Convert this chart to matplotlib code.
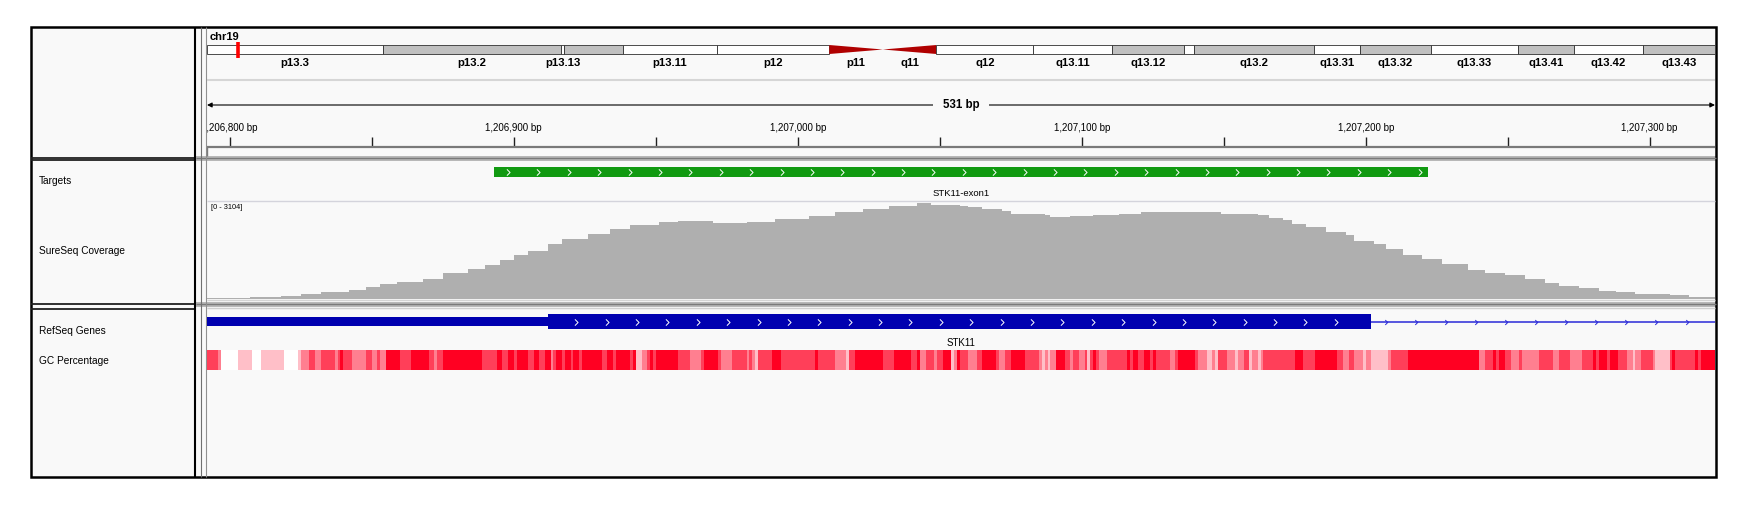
import numpy as np
import matplotlib
matplotlib.use('Agg')
import matplotlib.pyplot as plt
from matplotlib.patches import Rectangle, Polygon
from matplotlib.path import Path
from matplotlib.colors import LinearSegmentedColormap

plt.rcParams['font.family'] = ['Liberation Sans', 'DejaVu Sans']

W, H = 1747, 514
DX0, DX1 = 207, 1715          # data area (pixels)
BG = '#f9f9f9'

# --- locus -------------------------------------------------------------
chrom = 'chr19'
CHR_LEN = 59128983
VIEW_START = 1206792
VIEW_END = 1207323

# --- cytobands (hg19, chr19) -------------------------------------------
band_names = ['p13.3', 'p13.2', 'p13.13', 'p13.12', 'p13.11', 'p12', 'p11', 'q11', 'q12',
              'q13.11', 'q13.12', 'q13.13', 'q13.2', 'q13.31', 'q13.32', 'q13.33',
              'q13.41', 'q13.42', 'q13.43']
band_start = [0, 6.9, 13.9, 14.0, 16.3, 20.0, 24.4, 26.5, 28.6, 32.4, 35.5, 38.3, 38.7,
              43.4, 45.2, 48.0, 51.4, 53.6, 56.3]
band_end = [6.9, 13.9, 14.0, 16.3, 20.0, 24.4, 26.5, 28.6, 32.4, 35.5, 38.3, 38.7, 43.4,
            45.2, 48.0, 51.4, 53.6, 56.3, 59.128983]
band_stain = ['gneg', 'gpos25', 'gneg', 'gpos25', 'gneg', 'gvar', 'acen', 'acen', 'gvar',
              'gneg', 'gpos25', 'gneg', 'gpos25', 'gneg', 'gpos25', 'gneg', 'gpos25',
              'gneg', 'gpos25']
band_shown = [1, 1, 1, 0, 1, 1, 1, 1, 1, 1, 1, 0, 1, 1, 1, 1, 1, 1, 1]

# --- features ----------------------------------------------------------
target_name = 'STK11-exon1'
target_start, target_end = 1206893, 1207222
gene_name = 'STK11'
gene_tx_start, gene_tx_end = 1205797, 1228431
cds_start, exon1_end = 1206912, 1207202

# --- coverage (offset from VIEW_START, depth) ----------------------------
cov_max = 3104
cov_start = [0, 15, 26, 33, 40, 50, 56, 61, 67, 76, 83, 92, 98, 103, 108, 113, 120, 125,
             134, 142, 149, 159, 166, 178, 190, 200, 212, 221, 231, 240, 250, 255, 265,
             268, 273, 280, 283, 287, 295, 297, 304, 312, 321, 329, 336, 353, 357, 370,
             374, 379, 382, 387, 394, 401, 404, 411, 415, 421, 428, 435, 444, 450, 457,
             464, 471, 476, 483, 490, 496, 503, 515, 522]
cov_depth = [21, 63, 105, 146, 209, 272, 387, 481, 543, 648, 836, 961, 1087, 1223, 1380,
             1536, 1745, 1902, 2059, 2215, 2341, 2425, 2477, 2404, 2446, 2529, 2634, 2759,
             2843, 2947, 3031, 2979, 2947, 2916, 2843, 2790, 2686, 2707, 2655, 2602, 2623,
             2676, 2707, 2759, 2770, 2759, 2686, 2655, 2571, 2508, 2372, 2268, 2132, 2028,
             1850, 1745, 1589, 1400, 1275, 1118, 909, 836, 752, 627, 522, 418, 334, 251,
             209, 146, 125, 73]

# --- GC percentage (offset from VIEW_START, percent) -----------------------
gc_start = [0, 4, 5, 11, 16, 19, 27, 32, 33, 36, 38, 40, 45, 46, 47, 48, 51, 56, 58, 60,
            61, 63, 68, 72, 78, 80, 81, 83, 97, 102, 104, 106, 108, 109, 113, 115, 117, 119,
            121, 122, 123, 125, 126, 128, 129, 131, 132,
            139, 141, 143, 144, 149, 150, 151, 153, 155, 156, 157, 158, 166, 170, 174, 175,
            180, 181, 185, 190, 191, 192, 193, 194, 199, 202, 214, 215, 221, 225, 226, 228,
            238, 242, 248, 250, 251, 253, 256, 257, 259, 262, 263, 264,
            265, 268, 271, 273, 278, 279, 281, 283, 288, 293, 294, 295, 296, 297, 299, 302,
            304, 305, 307, 309, 310, 311, 312, 313, 314, 317, 324, 325, 326, 328, 330, 332,
            333, 334, 339, 341, 342, 348, 349, 352, 354, 355, 356, 359, 362, 363, 365, 367,
            368, 370, 371, 372, 383, 386, 390,
            398, 400, 402, 404, 407, 408, 410, 416, 417, 423, 448, 450, 453, 454, 455, 457,
            459, 462, 463, 469, 474, 476, 480, 484, 488, 489, 490, 493, 494, 497, 500, 502,
            503, 505, 509, 510, 515, 516, 517, 524, 525, 526]
gc_pct = [75, 50, 0, 25, 0, 25, 0, 25, 50, 75, 50, 75, 50, 75, 100, 75, 50, 75, 50, 75,
          50, 100, 75, 100, 75, 50, 75, 100, 75, 100, 75, 100, 75, 100, 75, 100, 75, 100,
          50, 75, 100, 75, 100, 75, 100, 75, 100,
          75, 100, 75, 100, 75, 100, 25, 50, 75, 100, 75, 100, 75, 50, 75, 100,
          75, 50, 75, 50, 75, 50, 25, 75, 100, 75, 100, 75, 50, 25, 75, 100,
          75, 100, 75, 100, 50, 75, 50, 75, 100, 25, 50, 100,
          75, 50, 75, 100, 75, 50, 75, 100, 75, 50, 25, 50, 25, 50, 100, 75,
          50, 75, 50, 75, 25, 75, 100, 75, 50, 75, 100, 75, 100, 75, 100, 75,
          100, 75, 50, 75, 100, 75, 50, 25, 50, 25, 75, 50, 25, 50, 75, 25,
          50, 25, 50, 75, 100, 75, 100,
          75, 50, 75, 50, 25, 50, 25, 50, 75, 100, 50, 75, 100, 75, 100, 75,
          50, 75, 50, 75, 50, 75, 50, 75, 100, 75, 100, 75, 100, 75, 50, 25,
          50, 75, 50, 25, 75, 100, 75, 100, 75, 100]

stain_color = {'gneg': 'white', 'gvar': 'white', 'gpos25': '#c0c0c0'}
gc_cmap = LinearSegmentedColormap.from_list('gc', ['#ffffff', '#ff0022'])

fig = plt.figure(figsize=(W / 100, H / 100), dpi=100)
fig.patch.set_facecolor('white')

page = fig.add_axes([0, 0, 1, 1])
page.set_xlim(0, W)
page.set_ylim(H, 0)
page.axis('off')


def track_ax(y0, y1, xlim, ylim=None):
    ax = fig.add_axes([DX0 / W, 1 - y1 / H, (DX1 - DX0) / W, (y1 - y0) / H])
    ax.set_xlim(*xlim)
    if ylim is None:
        ax.set_ylim(y1, y0)
    else:
        ax.set_ylim(*ylim)
    ax.axis('off')
    ax.patch.set_alpha(0)
    return ax


chevron = Path([(-0.5, 1), (0.5, 0), (-0.5, -1)], [Path.MOVETO, Path.LINETO, Path.LINETO])

# ---------- frame ----------
page.add_patch(Rectangle((31, 27), 1685, 450, fc=BG, ec='none'))
for y in (156, 302):
    page.add_patch(Rectangle((196, y), 1520, 5, fc='#b8b8b8', ec='none'))
    page.hlines(y + 1.5, 196, 1716, color='#7a7a7a', lw=1)
page.hlines(299.8, DX0, DX1, color='#d4d4d4', lw=1)
page.hlines(308, DX0, DX1, color='#d0d0d0', lw=1)
page.hlines([157.5, 159.5, 304, 308.5], 31, 196, color='#202020', lw=1.3)
page.vlines(195.5, 27, 477, color='black', lw=1.5)
page.vlines(201, 27, 477, color='#707070', lw=0.8)
page.vlines(206.5, 27, 477, color='#909090', lw=0.8)
page.hlines(80, DX0, DX1, color='#d6d6d6', lw=1.5)
page.hlines(200.7, DX0, DX1, color='#d4d4dc', lw=1)
page.add_patch(Rectangle((31, 27), 1685, 450, fc='none', ec='black', lw=1.8))

# track names
for txt, y in [('Targets', 180.5), ('SureSeq Coverage', 251.5),
               ('RefSeq Genes', 331), ('GC Percentage', 361)]:
    page.text(39, y, txt, fontsize=7.3, va='center', ha='left')

# ---------- ideogram ----------
ideo = track_ax(28, 80, (0, CHR_LEN))
page.text(210, 36.5, chrom, fontsize=8, fontweight='bold', va='center', ha='left')
for name, s, e, st, show in zip(band_names, band_start, band_end, band_stain, band_shown):
    s, e = s * 1e6, e * 1e6
    if st == 'acen':
        if name.startswith('p'):
            pts = [(s, 45), (e, 49.5), (s, 54)]
        else:
            pts = [(s, 49.5), (e, 45), (e, 54)]
        ideo.add_patch(Polygon(pts, closed=True, fc='#b00000', ec='none'))
    else:
        ideo.bar(s, 9, width=e - s, bottom=45, align='edge', color=stain_color[st],
                 edgecolor='#303030', linewidth=0.6)
    if show:
        ideo.text((s + e) / 2, 62.5, name, fontsize=8.2, fontweight='bold',
                  ha='center', va='center')
view_mid = (VIEW_START + VIEW_END) / 2
ideo.plot([1.2069e6, 1.2069e6], [42, 57.5], color='#ff0000', lw=2.6,
          solid_capstyle='butt', clip_on=False)

# ---------- ruler ----------
ruler = track_ax(80, 157, (VIEW_START, VIEW_END))
ruler.annotate('', xy=(VIEW_START, 105), xytext=(VIEW_END, 105), annotation_clip=False,
               arrowprops=dict(arrowstyle='<|-|>', color='black', lw=0.8,
                               mutation_scale=7, shrinkA=0, shrinkB=0))
ruler.text(view_mid, 105, f'{VIEW_END - VIEW_START} bp', fontsize=8.3, fontweight='bold',
           ha='center', va='center',
           bbox=dict(fc=BG, ec='none', pad=7))
tick_pos = np.arange(1206800, VIEW_END, 50)
ruler.vlines(tick_pos, 137, 145.5, color='#202020', lw=1)
for p in tick_pos[::2]:
    ruler.text(p, 128, f'{p:,} bp', fontsize=7, ha='center', va='center', clip_on=True)
ruler.hlines(147, VIEW_START, VIEW_END, color='#7a7a7a', lw=1.6)
page.vlines(207.5, 147, 156, color='#7a7a7a', lw=1)

# ---------- targets ----------
tgt = track_ax(160, 201, (VIEW_START, VIEW_END))
tgt.bar(target_start, 10, width=target_end - target_start, bottom=167, align='edge',
        color='#119a11', linewidth=0)
tgt_chev = np.arange(target_start + 5, target_end - 2, 10.7)
tgt.plot(tgt_chev, np.full(len(tgt_chev), 172.0), linestyle='none', marker=chevron,
         markersize=4.5, markerfacecolor='none', markeredgecolor='white',
         markeredgewidth=0.7)
tgt.text((target_start + target_end) / 2, 193.7, target_name, fontsize=6.8,
         ha='center', va='center')

# ---------- coverage ----------
cov = track_ax(201, 299, (VIEW_START, VIEW_END), (0, cov_max))
cov_edges = VIEW_START + np.array(cov_start + [VIEW_END - VIEW_START])
cov.stairs(cov_depth, cov_edges, fill=True, color='#afafaf', linewidth=0)
page.text(211, 207.5, f'[0 - {cov_max}]', fontsize=5.3, ha='left', va='center')

# ---------- genes + GC ----------
gen = track_ax(308, 476, (VIEW_START, VIEW_END))
gen.hlines(321.7, exon1_end, gene_tx_end, color='#2a2ad8', lw=1.1)
gen.bar(gene_tx_start, 8.5, width=cds_start - gene_tx_start, bottom=317.3, align='edge',
        color='#0000b0', linewidth=0)
gen.bar(cds_start, 14.7, width=exon1_end - cds_start, bottom=314.3, align='edge',
        color='#0000b0', linewidth=0)
cds_chev = np.arange(1206922, exon1_end - 2, 10.7)
gen.plot(cds_chev, np.full(len(cds_chev), 321.7), linestyle='none', marker=chevron,
         markersize=4.5, markerfacecolor='none', markeredgecolor='white',
         markeredgewidth=0.7)
intr_chev = np.arange(1207207, VIEW_END, 10.6)
gen.plot(intr_chev, np.full(len(intr_chev), 321.7), linestyle='none', marker=chevron,
         markersize=3.5, markerfacecolor='none', markeredgecolor='#2a2ad8',
         markeredgewidth=0.7)
gen.text((max(gene_tx_start, VIEW_START) + min(gene_tx_end, VIEW_END)) / 2, 343,
         gene_name, fontsize=7, ha='center', va='center')

gc_edges = np.array(gc_start + [VIEW_END - VIEW_START])
gen.bar(VIEW_START + gc_edges[:-1], 20, width=np.diff(gc_edges), bottom=350, align='edge',
        color=gc_cmap(np.array(gc_pct) / 100.0), linewidth=0)

fig.savefig('out.png', dpi=100, facecolor='white')
